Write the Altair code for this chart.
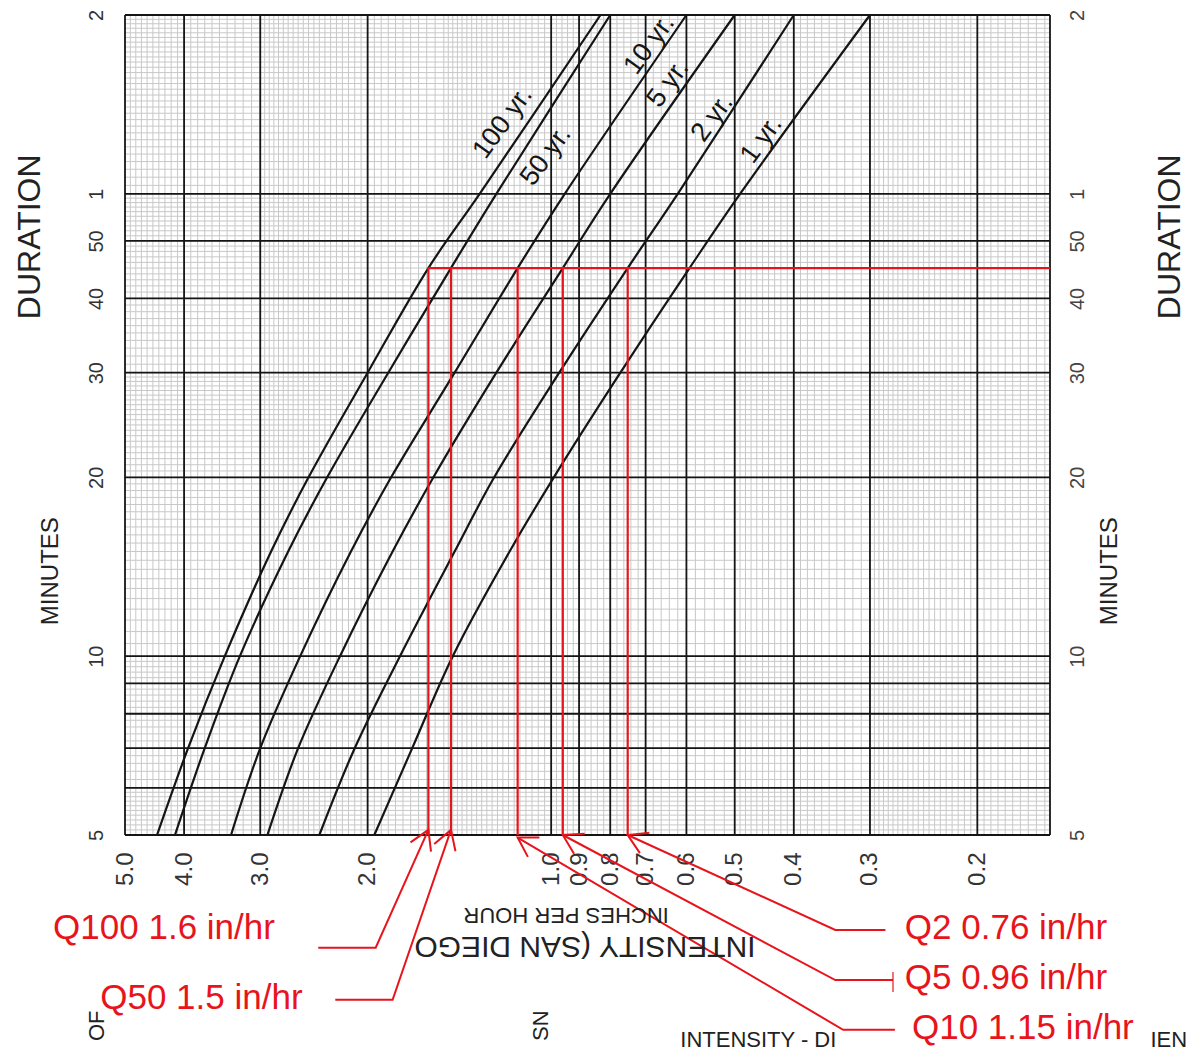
import altair as alt
import numpy as np
import pandas as pd

FONT = "Liberation Sans"
RED = "#e8141c"
INK = "#151515"

# ---------------- data ----------------
durations = [5, 7, 10, 15, 20, 30, 45, 60, 120]          # minutes
curve_names = ["100 yr.", "50 yr.", "10 yr.", "5 yr.", "2 yr.", "1 yr."]
int_100yr = [4.43, 3.94, 3.43, 2.88, 2.50, 2.00, 1.59, 1.31, 0.83]
int_50yr = [4.14, 3.70, 3.24, 2.70, 2.33, 1.85, 1.46, 1.23, 0.80]
int_10yr = [3.35, 3.00, 2.58, 2.13, 1.83, 1.44, 1.135, 0.95, 0.60]
int_5yr = [2.92, 2.60, 2.22, 1.82, 1.56, 1.23, 0.957, 0.80, 0.50]
int_2yr = [2.40, 2.10, 1.77, 1.44, 1.24, 0.97, 0.749, 0.62, 0.40]
int_1yr = [1.95, 1.69, 1.45, 1.17, 0.99, 0.77, 0.593, 0.49, 0.30]

# curve label anchor points (intensity, duration)
label_intensity = [1.20, 1.02, 0.69, 0.643, 0.544, 0.452]
label_duration = [79, 69.5, 107, 92, 80.5, 74]

x_min, x_max = 0.152, 5.0
y_min, y_max = 5, 120
x_label_values = [5.0, 4.0, 3.0, 2.0, 1.0, 0.9, 0.8, 0.7, 0.6, 0.5, 0.4, 0.3, 0.2]
y_label_values = [5, 10, 20, 30, 40, 50, 60, 120]
x_major = x_label_values + [x_min]
y_major = [5, 6, 7, 8, 9, 10, 20, 30, 40, 50, 60, 120]

# design storm annotation (45 minute duration)
design_duration = 45
q_names = ["Q100", "Q50", "Q10", "Q5", "Q2"]
q_line_intensity = [1.59, 1.46, 1.135, 0.957, 0.749]
q_labels = ["Q100 1.6 in/hr", "Q50 1.5 in/hr", "Q10 1.15 in/hr", "Q5 0.96 in/hr", "Q2 0.76 in/hr"]
q_label_intensity = [6.56, 5.49, 0.256, 0.263, 0.263]
q_label_duration = [3.49, 2.66, 2.37, 2.87, 3.49]
leader_tip_duration = [5.1, 5.1, 4.95, 5.0, 5.0]
leader_elbow_intensity = [1.94, 1.82, 0.332, 0.342, 0.342]
leader_elbow_duration = [3.23, 2.64, 2.35, 2.85, 3.46]
leader_end_intensity = [2.41, 2.26, 0.273, 0.275, 0.283]
arrow_angle = [294, 289, 211, 208, 205]
q5_tick_intensity = [0.275]
q5_tick_top = [2.94]
q5_tick_bottom = [2.72]

# text placed around the graph paper
side_titles = ["DURATION", "DURATION"]
side_title_intensity = [7.16, 0.0965]
side_title_duration = [50.8, 50.8]
unit_titles = ["MINUTES", "MINUTES"]
unit_title_intensity = [6.60, 0.121]
unit_title_duration = [13.9, 13.9]
bottom_titles = ["INCHES PER HOUR", "INTENSITY (SAN DIEGO"]
bottom_title_intensity = [0.945, 0.880]
bottom_title_duration = [3.67, 3.25]
bottom_title_size = [22, 30]
cut_texts = ["INTENSITY - DI", "IEN"]
cut_text_intensity = [0.614, 0.104]
cut_text_duration = [2.35, 2.35]
cut_vtexts = ["OF", "SN"]
cut_vtext_intensity = [5.55, 1.04]
cut_vtext_duration = [2.25, 2.25]

# graph-paper minor rulings
x_minor = np.round(np.concatenate([
    np.arange(3.0, 5.0, 0.1), np.arange(2.0, 3.0, 0.05), np.arange(1.5, 2.0, 0.05),
    np.arange(1.0, 1.5, 0.025), np.arange(0.5, 1.0, 0.02), np.arange(0.3, 0.5, 0.01),
    np.arange(0.155, 0.3, 0.005)]), 4)
y_minor = np.round(np.concatenate([
    np.arange(5, 6, 0.1), np.arange(6, 10, 0.2), np.arange(10, 30, 0.5),
    np.arange(30, 60, 1.0), np.arange(60, 120, 2.0)]), 3)

# ---------------- tables ----------------
curve_series = [int_100yr, int_50yr, int_10yr, int_5yr, int_2yr, int_1yr]
curves_df = pd.DataFrame([
    {"curve": n, "duration": d, "intensity": v}
    for n, s in zip(curve_names, curve_series) for d, v in zip(durations, s)
])
labels_df = pd.DataFrame({"label": curve_names, "intensity": label_intensity, "duration": label_duration})

q_df = pd.DataFrame({
    "name": q_names, "q": q_line_intensity, "top": design_duration, "bottom": y_min,
    "label": q_labels, "lx": q_label_intensity, "ly": q_label_duration,
    "tip": leader_tip_duration, "angle": arrow_angle,
})
horiz_df = pd.DataFrame({"x1": [max(q_line_intensity)], "x2": [x_min], "d": [design_duration]})
leader_rows = []
for i, n in enumerate(q_names):
    leader_rows.append({"name": n, "step": 0, "intensity": q_line_intensity[i], "duration": leader_tip_duration[i]})
    leader_rows.append({"name": n, "step": 1, "intensity": leader_elbow_intensity[i], "duration": leader_elbow_duration[i]})
    leader_rows.append({"name": n, "step": 2, "intensity": leader_end_intensity[i], "duration": leader_elbow_duration[i]})
leader_df = pd.DataFrame(leader_rows)
tick_df = pd.DataFrame({"x": q5_tick_intensity, "y1": q5_tick_top, "y2": q5_tick_bottom})

# ---------------- scales & helpers ----------------
xs = alt.Scale(type="log", domain=[x_min, x_max], reverse=True, nice=False)
ys = alt.Scale(type="log", domain=[y_min, y_max], nice=False)


def X(field="intensity", axis=None):
    return alt.X(f"{field}:Q", scale=xs, axis=axis)


def Y(field="duration", axis=None):
    return alt.Y(f"{field}:Q", scale=ys, axis=axis)


label_expr = "datum.value == 60 ? '1' : datum.value == 120 ? '2' : datum.value"
x_axis = alt.Axis(orient="bottom", values=x_label_values, format=".1f", labelAngle=270,
                  labelAlign="right", labelBaseline="middle", labelPadding=17,
                  labelFontSize=24, labelColor="#333", labelFont=FONT, ticks=False,
                  domain=False, grid=False, title=None, labelOverlap=False, labelFlush=False)
left_axis = alt.Axis(orient="left", values=y_label_values, labelExpr=label_expr, labelAngle=270,
                     labelAlign="center", labelBaseline="bottom", labelPadding=19,
                     labelFontSize=20, labelColor="#333", labelFont=FONT, ticks=False,
                     domain=False, grid=False, title=None, labelOverlap=False, labelFlush=False)
right_axis = alt.Axis(orient="right", values=y_label_values, labelExpr=label_expr, labelAngle=270,
                      labelAlign="center", labelBaseline="top", labelPadding=17,
                      labelFontSize=20, labelColor="#444", labelFont=FONT, ticks=False,
                      domain=False, grid=False, title=None, labelOverlap=False, labelFlush=False)

# ---------------- layers ----------------
minor_v = alt.Chart(pd.DataFrame({"intensity": x_minor})).mark_rule(
    color="#c8c8c8", strokeWidth=1).encode(x=X())
minor_h = alt.Chart(pd.DataFrame({"duration": y_minor})).mark_rule(
    color="#c8c8c8", strokeWidth=1).encode(y=Y(axis=right_axis))
major_v = alt.Chart(pd.DataFrame({"intensity": x_major})).mark_rule(
    color=INK, strokeWidth=1.8).encode(x=X(axis=x_axis))
major_h = alt.Chart(pd.DataFrame({"duration": y_major})).mark_rule(
    color=INK, strokeWidth=1.8).encode(y=Y(axis=left_axis))

curves = alt.Chart(curves_df).mark_line(color=INK, strokeWidth=2.2, interpolate="catmull-rom").encode(
    x=X(), y=Y(), detail="curve:N", order="duration:Q")
curve_labels = alt.Chart(labels_df).mark_text(
    angle=306, fontSize=27, font=FONT, color=INK, align="center", baseline="middle").encode(
    x=X(), y=Y(), text="label:N")

red_v = alt.Chart(q_df).mark_rule(color=RED, strokeWidth=2.2).encode(
    x=X("q"), y=Y("top"), y2=alt.Y2("bottom:Q"))
red_h = alt.Chart(horiz_df).mark_rule(color=RED, strokeWidth=2.2).encode(
    x=X("x1"), x2=alt.X2("x2:Q"), y=Y("d"))
leaders = alt.Chart(leader_df).mark_line(color=RED, strokeWidth=2).encode(
    x=X(), y=Y(), detail="name:N", order="step:Q")
q5_tick = alt.Chart(tick_df).mark_rule(color=RED, strokeWidth=1.2).encode(
    x=X("x"), y=Y("y1"), y2=alt.Y2("y2:Q"))
arrows = alt.Chart(q_df).mark_point(
    shape="M -1 -0.6 L 0 0 L -1 0.6", filled=False, size=1400, strokeWidth=2,
    color=RED, opacity=1).encode(
    x=X("q"), y=Y("tip"), angle=alt.Angle("angle:Q", scale=None))
red_text = alt.Chart(q_df).mark_text(
    align="left", baseline="middle", fontSize=35, font=FONT, color=RED).encode(
    x=X("lx"), y=Y("ly"), text="label:N")

side_text = alt.Chart(pd.DataFrame({"t": side_titles, "i": side_title_intensity, "d": side_title_duration})).mark_text(
    angle=270, fontSize=32, font=FONT, color="#222", align="center", baseline="middle").encode(
    x=X("i"), y=Y("d"), text="t:N")
unit_text = alt.Chart(pd.DataFrame({"t": unit_titles, "i": unit_title_intensity, "d": unit_title_duration})).mark_text(
    angle=270, fontSize=24, font=FONT, color="#222", align="center", baseline="middle").encode(
    x=X("i"), y=Y("d"), text="t:N")
bottom_text = alt.Chart(pd.DataFrame({"t": bottom_titles, "i": bottom_title_intensity,
                                      "d": bottom_title_duration, "s": bottom_title_size})).mark_text(
    angle=180, font=FONT, color="#222", align="center", baseline="middle").encode(
    x=X("i"), y=Y("d"), text="t:N", size=alt.Size("s:Q", scale=None))
cut_text = alt.Chart(pd.DataFrame({"t": cut_texts, "i": cut_text_intensity, "d": cut_text_duration})).mark_text(
    fontSize=22, font=FONT, color="#222", align="left", baseline="top").encode(
    x=X("i"), y=Y("d"), text="t:N")
cut_vtext = alt.Chart(pd.DataFrame({"t": cut_vtexts, "i": cut_vtext_intensity, "d": cut_vtext_duration})).mark_text(
    angle=270, fontSize=22, font=FONT, color="#222", align="left", baseline="middle").encode(
    x=X("i"), y=Y("d"), text="t:N")

chart = alt.layer(
    minor_v, minor_h, major_v, major_h, curves, curve_labels,
    red_v, red_h, leaders, q5_tick, arrows, red_text,
    side_text, unit_text, bottom_text, cut_text, cut_vtext,
).resolve_axis(x="independent", y="independent").properties(
    width=925, height=820,
    padding={"left": 117, "top": 7, "right": 140, "bottom": 218},
    autosize=alt.AutoSizeParams(type="none"),
    background="white",
).configure_view(stroke=None)

chart.save("out.html", embed_options={"renderer": "svg", "actions": False})
